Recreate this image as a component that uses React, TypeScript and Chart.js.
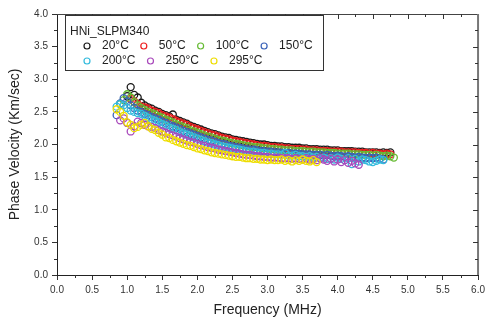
import React, { useEffect, useRef } from "react";
import { Chart, registerables } from "chart.js";

Chart.register(...registerables);

// Frequency grid (MHz)
const frequencyMHz = [
  0.85, 0.9, 0.95, 1.0, 1.05, 1.1, 1.15, 1.2, 1.25, 1.3,
  1.35, 1.4, 1.45, 1.5, 1.55, 1.6, 1.65, 1.7, 1.75, 1.8,
  1.85, 1.9, 1.95, 2.0, 2.05, 2.1, 2.15, 2.2, 2.25, 2.3,
  2.35, 2.4, 2.45, 2.5, 2.55, 2.6, 2.65, 2.7, 2.75, 2.8,
  2.85, 2.9, 2.95, 3.0, 3.05, 3.1, 3.15, 3.2, 3.25, 3.3,
  3.35, 3.4, 3.45, 3.5, 3.55, 3.6, 3.65, 3.7, 3.75, 3.8,
  3.85, 3.9, 3.95, 4.0, 4.05, 4.1, 4.15, 4.2, 4.25, 4.3,
  4.35, 4.4, 4.45, 4.5, 4.55, 4.6, 4.65, 4.7, 4.75, 4.8,
];

// Phase velocity (km/s) per temperature; null = no measurement
const v20C = [
  null, null, null, 2.74, 2.88, 2.76, 2.72, 2.64, 2.6, 2.57,
  2.55, 2.52, 2.5, 2.47, 2.45, 2.43, 2.46, 2.38, 2.36, 2.34,
  2.32, 2.29, 2.27, 2.25, 2.23, 2.21, 2.19, 2.17, 2.16, 2.14,
  2.12, 2.11, 2.1, 2.08, 2.07, 2.06, 2.05, 2.04, 2.03, 2.02,
  2.01, 2.0, 2.0, 1.99, 1.98, 1.98, 1.97, 1.97, 1.96, 1.96,
  1.95, 1.95, 1.95, 1.94, 1.94, 1.93, 1.93, 1.93, 1.92, 1.92,
  1.92, 1.91, 1.91, 1.91, 1.9, 1.9, 1.9, 1.9, 1.89, 1.89,
  1.89, 1.88, 1.88, 1.88, 1.88, 1.87, 1.88, 1.87, 1.88, null,
];
const v50C = [
  null, null, null, null, 2.7, 2.66, 2.62, 2.58, 2.57, 2.55,
  2.52, 2.5, 2.48, 2.45, 2.43, 2.41, 2.39, 2.36, 2.34, 2.32,
  2.3, 2.27, 2.25, 2.23, 2.21, 2.19, 2.17, 2.15, 2.14, 2.12,
  2.1, 2.09, 2.08, 2.06, 2.05, 2.04, 2.03, 2.02, 2.01, 2.0,
  1.99, 1.98, 1.98, 1.97, 1.96, 1.96, 1.95, 1.95, 1.94, 1.94,
  1.93, 1.93, 1.93, 1.92, 1.92, 1.91, 1.91, 1.91, 1.9, 1.9,
  1.9, 1.89, 1.89, 1.89, 1.89, 1.88, 1.88, 1.88, 1.88, 1.87,
  1.87, 1.87, 1.86, 1.87, 1.86, 1.86, 1.85, 1.86, 1.85, null,
];
const v100C = [
  null, 2.62, 2.68, 2.77, 2.72, 2.65, 2.6, 2.56, 2.53, 2.5,
  2.48, 2.46, 2.43, 2.41, 2.38, 2.36, 2.34, 2.31, 2.29, 2.27,
  2.25, 2.22, 2.2, 2.18, 2.16, 2.14, 2.12, 2.11, 2.09, 2.07,
  2.06, 2.05, 2.03, 2.02, 2.01, 2.0, 1.99, 1.98, 1.97, 1.96,
  1.96, 1.95, 1.94, 1.94, 1.93, 1.93, 1.92, 1.92, 1.91, 1.91,
  1.91, 1.9, 1.9, 1.9, 1.89, 1.89, 1.89, 1.88, 1.88, 1.88,
  1.87, 1.87, 1.87, 1.86, 1.86, 1.86, 1.86, 1.85, 1.85, 1.85,
  1.84, 1.84, 1.84, 1.83, 1.84, 1.83, 1.82, 1.83, 1.82, 1.8,
];
const v150C = [
  2.45, 2.63, 2.71, 2.66, 2.6, 2.56, 2.52, 2.5, 2.47, 2.45,
  2.42, 2.4, 2.38, 2.35, 2.33, 2.3, 2.28, 2.26, 2.24, 2.21,
  2.19, 2.17, 2.15, 2.13, 2.11, 2.09, 2.07, 2.06, 2.04, 2.02,
  2.01, 2.0, 1.98, 1.97, 1.96, 1.95, 1.94, 1.93, 1.92, 1.92,
  1.91, 1.9, 1.9, 1.89, 1.89, 1.88, 1.88, 1.87, 1.87, 1.87,
  1.86, 1.86, 1.86, 1.85, 1.85, 1.85, 1.84, 1.84, 1.84, 1.83,
  1.84, 1.83, 1.82, 1.83, 1.82, 1.81, 1.82, 1.81, 1.8, 1.81,
  1.8, 1.79, 1.8, 1.79, 1.8, 1.78, 1.77, null, null, null,
];
const v200C = [
  2.58, 2.62, 2.6, 2.56, 2.52, 2.5, 2.48, 2.47, 2.44, 2.41,
  2.38, 2.36, 2.34, 2.31, 2.29, 2.26, 2.24, 2.22, 2.19, 2.17,
  2.15, 2.13, 2.11, 2.09, 2.07, 2.05, 2.03, 2.02, 2.0, 1.99,
  1.97, 1.96, 1.95, 1.94, 1.93, 1.92, 1.91, 1.9, 1.89, 1.89,
  1.88, 1.87, 1.87, 1.86, 1.86, 1.85, 1.85, 1.84, 1.87, 1.83,
  1.83, 1.84, 1.82, 1.82, 1.81, 1.82, 1.8, 1.81, 1.79, 1.8,
  1.78, 1.79, 1.77, 1.8, 1.78, 1.76, 1.79, 1.7, 1.78, 1.74,
  1.77, 1.76, 1.74, 1.73, 1.75, 1.77, 1.76, null, null, null,
];
const v250C = [
  null, 2.37, 2.4, 2.33, 2.2, 2.28, 2.35, 2.33, 2.3, 2.28,
  2.27, 2.25, 2.22, 2.2, 2.18, 2.16, 2.14, 2.12, 2.1, 2.08,
  2.06, 2.04, 2.03, 2.01, 1.99, 1.98, 1.96, 1.95, 1.94, 1.92,
  1.91, 1.9, 1.89, 1.88, 1.87, 1.86, 1.85, 1.84, 1.84, 1.83,
  1.82, 1.82, 1.81, 1.81, 1.8, 1.8, 1.8, 1.79, 1.79, 1.79,
  1.78, 1.79, 1.78, 1.77, 1.79, 1.77, 1.78, 1.76, 1.79, 1.77,
  1.75, 1.78, 1.74, 1.77, 1.73, 1.76, 1.72, 1.75, 1.71, 1.69,
  null, null, null, null, null, null, null, null, null, null,
];
const v295C = [
  2.54, 2.5, 2.44, 2.34, 2.3, 2.25, 2.27, 2.3, 2.33, 2.28,
  2.24, 2.22, 2.18, 2.15, 2.11, 2.1, 2.07, 2.05, 2.03, 2.01,
  1.99, 1.98, 1.96, 1.94, 1.93, 1.91, 1.9, 1.88, 1.87, 1.86,
  1.85, 1.84, 1.83, 1.82, 1.81, 1.81, 1.8, 1.79, 1.79, 1.78,
  1.78, 1.77, 1.77, 1.76, 1.77, 1.76, 1.76, 1.77, 1.75, 1.76,
  1.74, 1.76, 1.75, 1.77, 1.75, 1.74, 1.76, 1.73, null, null,
  null, null, null, null, null, null, null, null, null, null,
  null, null, null, null, null, null, null, null, null, null,
];

const seriesLabels = ["20°C", "50°C", "100°C", "150°C", "200°C", "250°C", "295°C"];
const seriesValues = [v20C, v50C, v100C, v150C, v200C, v250C, v295C];
const seriesColors = ["#1a1a1a", "#ee2020", "#66bb33", "#3a62b8", "#33bbdd", "#a848bb", "#eedd00"];
const legendTitle = "HNi_SLPM340";
const legendRows = [[0, 1, 2, 3], [4, 5, 6]];

const FONT = "'Liberation Sans', Arial, sans-serif";

const decorPlugin = {
  id: "decor",
  afterDraw(chart: any) {
    const { ctx, chartArea: a, scales } = chart;
    const xs = scales.x;
    const ys = scales.y;
    ctx.save();
    // top & right frame
    ctx.strokeStyle = "#444";
    ctx.lineWidth = 1;
    ctx.beginPath();
    ctx.moveTo(a.left, a.top + 0.5);
    ctx.lineTo(a.right, a.top + 0.5);
    ctx.stroke();
    ctx.strokeStyle = "#777";
    ctx.lineWidth = 2;
    ctx.beginPath();
    ctx.moveTo(a.right, a.top);
    ctx.lineTo(a.right, a.bottom);
    ctx.stroke();
    // ticks
    ctx.strokeStyle = "#333";
    ctx.lineWidth = 1;
    ctx.beginPath();
    for (let k = 0; k <= 24; k++) {
      const v = k * 0.25;
      const px = Math.round(xs.getPixelForValue(v)) + 0.5;
      const major = k % 2 === 0;
      const len = major ? 5 : 3;
      if (!major) {
        ctx.moveTo(px, a.bottom);
        ctx.lineTo(px, a.bottom + len);
      }
      if (k > 0 && k < 24) {
        ctx.moveTo(px, a.top);
        ctx.lineTo(px, a.top + len);
      }
    }
    for (let k = 0; k <= 16; k++) {
      const v = k * 0.25;
      const py = Math.round(ys.getPixelForValue(v)) + 0.5;
      const major = k % 2 === 0;
      const len = major ? 5 : 3;
      if (!major) {
        ctx.moveTo(a.left, py);
        ctx.lineTo(a.left - len, py);
      }
      if (k > 0 && k < 16) {
        ctx.moveTo(a.right, py);
        ctx.lineTo(a.right - len, py);
      }
    }
    ctx.stroke();

    // legend box
    const bx = a.left + 8;
    const by = a.top + 1;
    const bw = 258;
    const bh = 55;
    ctx.fillStyle = "#fff";
    ctx.fillRect(bx, by, bw, bh);
    ctx.strokeStyle = "#333";
    ctx.lineWidth = 1;
    ctx.strokeRect(bx + 0.5, by + 0.5, bw, bh);
    ctx.font = `12px ${FONT}`;
    ctx.fillStyle = "#222";
    ctx.textBaseline = "middle";
    ctx.textAlign = "left";
    ctx.fillText(legendTitle, bx + 5, by + 17);
    legendRows.forEach((row, r) => {
      const cy = by + 31 + r * 15;
      let cx = bx + 22;
      row.forEach((idx) => {
        ctx.strokeStyle = seriesColors[idx];
        ctx.lineWidth = 1.2;
        ctx.beginPath();
        ctx.arc(cx, cy, 3, 0, Math.PI * 2);
        ctx.stroke();
        ctx.fillStyle = "#222";
        const tx = cx + 15;
        ctx.fillText(seriesLabels[idx], tx, cy);
        cx = tx + ctx.measureText(seriesLabels[idx]).width + 15;
      });
    });
    ctx.restore();
  },
};

export default function App() {
  const canvasRef = useRef<HTMLCanvasElement | null>(null);

  useEffect(() => {
    const canvas = canvasRef.current;
    if (!canvas) return;
    const datasets = seriesValues.map((vals, i) => ({
      label: seriesLabels[i],
      data: frequencyMHz
        .map((f, j) => ({ x: f, y: vals[j] }))
        .filter((p) => p.y !== null),
      borderColor: seriesColors[i],
      backgroundColor: "rgba(0,0,0,0)",
      pointRadius: 3.5,
      pointBorderWidth: 1.3,
      pointStyle: "circle",
      showLine: false,
      order: seriesValues.length - i,
    }));
    const chart = new Chart(canvas, {
      type: "scatter",
      data: { datasets },
      plugins: [decorPlugin],
      options: {
        animation: false,
        responsive: false,
        maintainAspectRatio: false,
        layout: { padding: { left: 0, top: 14, right: 8, bottom: 0 } },
        plugins: { legend: { display: false }, tooltip: { enabled: false } },
        scales: {
          x: {
            type: "linear",
            min: 0,
            max: 6,
            afterFit: (s: any) => {
              s.height = 45;
            },
            ticks: {
              stepSize: 0.5,
              padding: 4,
              color: "#333",
              font: { family: FONT, size: 10 },
              callback: (v: any) => Number(v).toFixed(1),
              maxRotation: 0,
              autoSkip: false,
            },
            grid: {
              display: true,
              drawOnChartArea: false,
              drawTicks: true,
              tickLength: 5,
              color: "#333",
            },
            border: { display: true, color: "#222", width: 1 },
            title: {
              display: true,
              text: "Frequency (MHz)",
              color: "#222",
              font: { family: FONT, size: 14 },
              padding: { top: 0, bottom: 1 },
            },
          },
          y: {
            type: "linear",
            min: 0,
            max: 4,
            afterFit: (s: any) => {
              s.width = 57;
            },
            ticks: {
              stepSize: 0.5,
              padding: 4,
              color: "#333",
              font: { family: FONT, size: 10 },
              callback: (v: any) => Number(v).toFixed(1),
            },
            grid: {
              display: true,
              drawOnChartArea: false,
              drawTicks: true,
              tickLength: 5,
              color: "#333",
            },
            border: { display: true, color: "#222", width: 1 },
            title: {
              display: true,
              text: "Phase Velocity (Km/sec)",
              color: "#222",
              font: { family: FONT, size: 14 },
              padding: { top: 7, bottom: 0 },
            },
          },
        },
      },
    });
    return () => chart.destroy();
  }, []);

  return (
    <div style={{ position: "fixed", left: 0, top: 0, width: 489, height: 320, background: "#fff" }}>
      <canvas ref={canvasRef} width={489} height={320} style={{ width: 489, height: 320, display: "block" }} />
    </div>
  );
}
